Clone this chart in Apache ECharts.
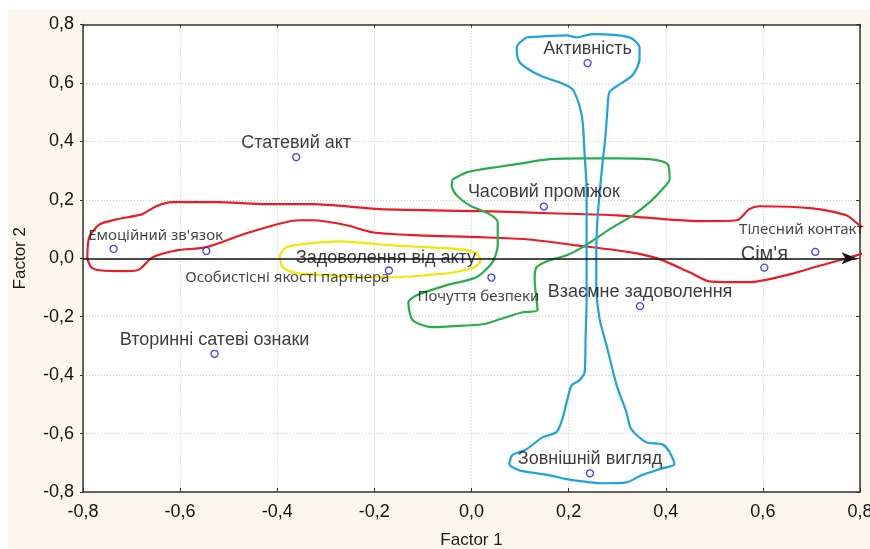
<!DOCTYPE html>
<html>
<head>
<meta charset="utf-8">
<script src="https://cdn.jsdelivr.net/npm/echarts@6/dist/echarts.min.js"></script>
<style>
html,body{margin:0;padding:0;background:#fff;}
#wrap{position:relative;width:870px;height:549px;background:#fff;overflow:hidden;}
#cream{position:absolute;left:8px;top:9px;width:862px;height:540px;background:#fcf7ec;}
#chart{position:absolute;left:0;top:0;width:870px;height:549px;}
</style>
</head>
<body>
<div id="wrap"><div id="cream"></div><div id="chart"></div></div>
<script>
// ---- data ----
const categories = ["Активність","Статевий акт","Часовий проміжок","Емоційний зв'язок","Особистісні якості партнера","Задоволення від акту","Почуття безпеки","Тілесний контакт","Сім'я","Взаємне задоволення","Зовнішній вигляд","Вторинні сатеві ознаки"];
const factor1 = [0.239,-0.361,0.149,-0.737,-0.546,-0.170,0.041,0.708,0.603,0.347,0.244,-0.529];
const factor2 = [0.668,0.346,0.177,0.032,0.025,-0.042,-0.066,0.022,-0.032,-0.164,-0.736,-0.327];
const tickValues = [-0.8,-0.6,-0.4,-0.2,0.0,0.2,0.4,0.6,0.8];
const axisNames = ["Factor 1","Factor 2"];

const redContour = [[0.820,0.096],[0.799,0.113],[0.772,0.147],[0.702,0.171],[0.593,0.178],[0.572,0.168],[0.546,0.130],[0.470,0.127],[0.402,0.133],[0.299,0.147],[0.161,0.154],[0.023,0.161],[-0.189,0.168],[-0.327,0.185],[-0.422,0.185],[-0.525,0.192],[-0.616,0.192],[-0.649,0.178],[-0.678,0.151],[-0.731,0.133],[-0.766,0.116],[-0.787,0.072],[-0.791,0.003],[-0.783,-0.031],[-0.766,-0.041],[-0.710,-0.044],[-0.684,-0.038],[-0.657,0.003],[-0.607,0.027],[-0.546,0.038],[-0.457,0.089],[-0.354,0.130],[-0.327,0.130],[-0.257,0.113],[-0.204,0.089],[-0.121,0.079],[0.016,0.072],[0.113,0.065],[0.216,0.044],[0.325,0.021],[0.387,-0.003],[0.449,-0.048],[0.490,-0.079],[0.572,-0.082],[0.655,-0.055],[0.706,-0.031],[0.758,-0.007],[0.793,0.010],[0.820,0.021]];
const yellowContour = [[-0.395,0.010],[-0.381,0.038],[-0.334,0.051],[-0.272,0.058],[-0.163,0.044],[-0.093,0.038],[-0.025,0.031],[0.010,0.017],[0.019,-0.007],[0.006,-0.031],[-0.035,-0.048],[-0.093,-0.058],[-0.163,-0.065],[-0.231,-0.065],[-0.299,-0.058],[-0.360,-0.051],[-0.389,-0.031],[-0.395,0.010]];
const greenContour = [[-0.039,0.270],[-0.010,0.294],[0.023,0.305],[0.093,0.322],[0.161,0.339],[0.229,0.342],[0.299,0.342],[0.367,0.339],[0.404,0.322],[0.408,0.270],[0.393,0.236],[0.367,0.192],[0.332,0.147],[0.284,0.099],[0.229,0.038],[0.196,0.010],[0.161,-0.007],[0.134,-0.031],[0.130,-0.072],[0.136,-0.178],[0.105,-0.185],[0.058,-0.209],[0.023,-0.226],[-0.045,-0.233],[-0.080,-0.236],[-0.121,-0.212],[-0.130,-0.151],[-0.113,-0.127],[-0.051,-0.092],[0.010,-0.065],[0.043,-0.014],[0.054,0.044],[0.054,0.123],[0.037,0.151],[-0.004,0.181],[-0.031,0.216],[-0.041,0.250],[-0.039,0.270]];
const blueContour = [[0.113,0.756],[0.196,0.763],[0.216,0.756],[0.249,0.767],[0.325,0.756],[0.346,0.722],[0.346,0.681],[0.332,0.627],[0.305,0.595],[0.284,0.568],[0.280,0.510],[0.276,0.421],[0.270,0.329],[0.264,0.226],[0.259,0.123],[0.257,0.021],[0.257,-0.092],[0.264,-0.209],[0.278,-0.298],[0.299,-0.435],[0.319,-0.527],[0.329,-0.585],[0.360,-0.630],[0.393,-0.637],[0.408,-0.664],[0.418,-0.705],[0.393,-0.719],[0.350,-0.743],[0.319,-0.767],[0.270,-0.770],[0.196,-0.756],[0.161,-0.743],[0.099,-0.726],[0.078,-0.705],[0.084,-0.674],[0.113,-0.654],[0.146,-0.613],[0.175,-0.595],[0.187,-0.551],[0.196,-0.493],[0.206,-0.435],[0.222,-0.418],[0.233,-0.390],[0.235,-0.264],[0.237,-0.151],[0.237,0.021],[0.237,0.123],[0.237,0.236],[0.233,0.352],[0.229,0.465],[0.222,0.524],[0.208,0.578],[0.181,0.602],[0.140,0.626],[0.099,0.671],[0.093,0.722],[0.113,0.756]];

// ---- label styling (layout only) ----
const smallLabels = ["Емоційний зв'язок","Особистісні якості партнера","Почуття безпеки","Тілесний контакт"];
const labelOffsets = {"Емоційний зв'язок":[42,-1],"Особистісні якості партнера":[81,39],"Задоволення від акту":[-3,2],"Почуття безпеки":[-13,32],"Тілесний контакт":[-14,-9],"Сім'я":[0,2]};

const fmt = v => (Math.abs(v) < 1e-9 ? 0 : v).toFixed(1).replace('.', ',');
const axMin = tickValues[0], axMax = tickValues[tickValues.length-1], axStep = +(tickValues[1]-tickValues[0]).toFixed(2);
const FONT = "'Liberation Sans', Arial, sans-serif";
const SMALLFONT = "'Noto Sans', 'Open Sans', sans-serif";

const points = categories.map((n, i) => {
  const small = smallLabels.includes(n);
  const big = n === "Сім'я";
  return {
    value: [factor1[i], factor2[i]],
    name: n,
    label: {
      offset: labelOffsets[n] || [0, 0],
      fontSize: small ? 15 : (big ? 20 : 18),
      fontFamily: small ? SMALLFONT : FONT,
      color: small ? '#151515' : '#0a0a0a'
    }
  };
});

function contour(data, color) {
  return { type: 'line', data: data, symbol: 'none', clip: false, smooth: 0.25, silent: true,
    lineStyle: { color: color, width: 2.2 }, z: 3 };
}

const frameColor = '#333333';
const option = {
  animation: false,
  grid: { left: 83, right: 10, top: 24.5, bottom: 57, show: true, backgroundColor: '#ffffff', borderWidth: 0,
          containLabel: false, outerBoundsMode: 'none' },
  xAxis: [{
    type: 'value', min: axMin, max: axMax, interval: axStep,
    name: axisNames[0], nameLocation: 'middle', nameGap: 40,
    nameTextStyle: { fontSize: 17, fontFamily: FONT, color: '#1a1a1a' },
    axisLine: { show: true, onZero: false, lineStyle: { color: frameColor, width: 1.5 } },
    axisTick: { show: true, inside: true, length: 4, lineStyle: { color: frameColor } },
    axisLabel: { formatter: fmt, fontSize: 18, fontFamily: FONT, color: '#111', margin: 11 },
    splitLine: { show: true, lineStyle: { color: '#c9c9c9', type: [1, 2], width: 1 } }
  }, {
    type: 'value', position: 'top', min: axMin, max: axMax, interval: axStep,
    axisLine: { show: true, onZero: false, lineStyle: { color: frameColor, width: 1.5 } },
    axisTick: { show: true, inside: true, length: 3, lineStyle: { color: frameColor } },
    axisLabel: { show: false }, splitLine: { show: false }
  }],
  yAxis: [{
    type: 'value', min: axMin, max: axMax, interval: axStep,
    name: axisNames[1], nameLocation: 'middle', nameGap: 54,
    nameTextStyle: { fontSize: 17, fontFamily: FONT, color: '#1a1a1a' },
    axisLine: { show: true, onZero: false, lineStyle: { color: frameColor, width: 1.5 } },
    axisTick: { show: true, inside: false, length: 3, lineStyle: { color: frameColor } },
    axisLabel: { formatter: fmt, fontSize: 18, fontFamily: FONT, color: '#111', margin: 9 },
    splitLine: { show: true, lineStyle: { color: '#c9c9c9', type: [1, 2], width: 1 } }
  }, {
    type: 'value', position: 'right', min: axMin, max: axMax, interval: axStep,
    axisLine: { show: true, onZero: false, lineStyle: { color: frameColor, width: 1.5 } },
    axisTick: { show: true, inside: true, length: 4, lineStyle: { color: frameColor } },
    axisLabel: { show: false }, splitLine: { show: false }
  }],
  series: [
    contour(redContour, '#ec1c24'),
    contour(yellowContour, '#f3e600'),
    contour(greenContour, '#27ae4a'),
    contour(blueContour, '#1ba3df'),
    {
      type: 'line', data: [], symbol: 'none', silent: true, z: 4,
      markLine: {
        silent: true, animation: false, symbol: ['none', 'arrow'], symbolSize: [9, 15],
        label: { show: false },
        lineStyle: { color: '#111', width: 1.5, type: 'solid' },
        data: [
          [{ coord: [0, axMin] }, { coord: [0, axMax + 0.01] }],
          [{ coord: [axMin, 0] }, { coord: [0.793, 0] }]
        ]
      }
    },
    {
      type: 'scatter', data: points, symbol: 'circle', symbolSize: 7, z: 5,
      itemStyle: { color: '#ffffff', borderColor: '#1010ff', borderWidth: 1.3 },
      label: { show: true, position: 'top', distance: 1, formatter: p => p.name }
    }
  ]
};
const chart = echarts.init(document.getElementById('chart'), null, { renderer: 'canvas' });
chart.setOption(option);
</script>
</body>
</html>
